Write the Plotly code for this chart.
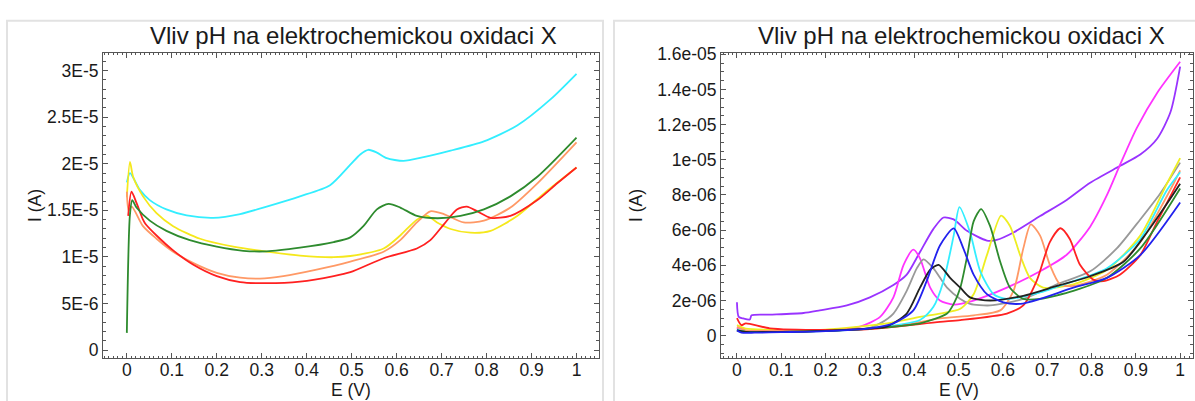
import plotly.graph_objects as go

W, H = 1195, 401
TITLE = "Vliv pH na elektrochemickou oxidaci X"

# ---------------- left chart data (E in V, I in microampere) ----------------
L_cyan_E = [0.0, 0.007, 0.029, 0.051, 0.088, 0.133, 0.192, 0.252, 0.311, 0.385, 0.452, 0.497, 0.519, 0.537, 0.556, 0.578, 0.615, 0.660, 0.720, 0.794, 0.868, 0.942, 1.0]
L_cyan_I = [18.0, 19.0, 17.2, 16.1, 15.1, 14.46, 14.2, 14.6, 15.4, 16.5, 17.7, 19.9, 21.0, 21.5, 21.2, 20.6, 20.3, 20.7, 21.4, 22.4, 24.1, 26.9, 29.65]

L_yellow_E = [0.0, 0.007, 0.014, 0.036, 0.066, 0.103, 0.163, 0.237, 0.311, 0.385, 0.46, 0.497, 0.571, 0.608, 0.645, 0.668, 0.69, 0.72, 0.764, 0.809, 0.868, 0.927, 1.0]
L_yellow_I = [16.4, 20.2, 18.6, 16.5, 14.7, 13.3, 11.95, 11.1, 10.56, 10.14, 9.97, 10.1, 10.9, 12.3, 14.0, 14.4, 13.7, 13.0, 12.6, 12.8, 14.4, 16.8, 19.6]

L_green_E = [0.0, 0.0067, 0.012, 0.0215, 0.051, 0.088, 0.14, 0.2, 0.259, 0.311, 0.385, 0.46, 0.497, 0.526, 0.556, 0.582, 0.608, 0.645, 0.69, 0.742, 0.794, 0.853, 0.913, 1.0]
L_green_I = [1.85, 14.4, 16.1, 15.3, 13.9, 12.8, 11.8, 11.1, 10.66, 10.6, 11.0, 11.6, 12.1, 13.3, 15.1, 15.7, 15.3, 14.4, 14.15, 14.4, 15.1, 16.5, 18.6, 22.8]

L_salmon_E = [0.0, 0.004, 0.011, 0.036, 0.066, 0.103, 0.148, 0.2, 0.252, 0.296, 0.348, 0.422, 0.497, 0.571, 0.608, 0.645, 0.675, 0.705, 0.749, 0.794, 0.853, 0.913, 1.0]
L_salmon_I = [17.0, 15.0, 15.4, 13.3, 11.95, 10.56, 9.34, 8.3, 7.77, 7.67, 7.94, 8.64, 9.5, 10.56, 11.8, 13.7, 14.9, 14.6, 13.7, 13.9, 15.3, 17.9, 22.3]

L_red_E = [0.003, 0.0104, 0.0215, 0.036, 0.042, 0.066, 0.103, 0.148, 0.2, 0.252, 0.311, 0.385, 0.46, 0.497, 0.571, 0.645, 0.675, 0.705, 0.734, 0.756, 0.779, 0.809, 0.853, 0.913, 0.957, 1.0]
L_red_I = [14.4, 17.0, 15.8, 14.0, 13.5, 12.3, 10.7, 9.16, 7.94, 7.3, 7.18, 7.35, 7.94, 8.36, 9.86, 10.9, 11.8, 13.5, 15.1, 15.4, 14.9, 14.2, 14.4, 16.1, 17.9, 19.6]

# ---------------- right chart data (E in V, I in microampere) ----------------
R_magenta_E = [0.0, 0.01, 0.05, 0.1, 0.2, 0.278, 0.323, 0.353, 0.376, 0.398, 0.413, 0.436, 0.458, 0.489, 0.534, 0.609, 0.684, 0.744, 0.797, 0.835, 0.865, 0.902, 0.948, 1.0]
R_magenta_I = [0.42, 0.28, 0.24, 0.24, 0.3, 0.52, 1.07, 2.18, 4.03, 4.89, 4.4, 2.73, 2.0, 1.77, 2.0, 2.73, 3.66, 4.6, 6.2, 8.0, 9.75, 11.8, 13.8, 15.57]

R_purple_E = [0.0, 0.004, 0.0143, 0.029, 0.033, 0.074, 0.15, 0.187, 0.248, 0.3, 0.353, 0.383, 0.413, 0.443, 0.466, 0.489, 0.519, 0.564, 0.586, 0.624, 0.684, 0.744, 0.797, 0.865, 0.91, 0.948, 0.978, 1.0]
R_purple_I = [1.9, 1.07, 0.98, 0.92, 1.16, 1.2, 1.29, 1.44, 1.72, 2.18, 2.88, 3.47, 4.76, 6.06, 6.72, 6.61, 5.96, 5.41, 5.45, 5.87, 6.8, 7.72, 8.7, 9.66, 10.3, 11.2, 12.7, 15.3]

R_gray_E = [0.0, 0.02, 0.1, 0.2, 0.3, 0.323, 0.353, 0.383, 0.406, 0.421, 0.443, 0.474, 0.504, 0.526, 0.571, 0.646, 0.722, 0.797, 0.857, 0.91, 0.955, 1.0]
R_gray_I = [0.35, 0.25, 0.25, 0.28, 0.45, 0.7, 1.26, 2.55, 3.84, 4.34, 3.84, 2.73, 2.09, 1.81, 1.72, 2.09, 2.92, 3.66, 4.96, 6.61, 8.09, 9.84]

R_black_E = [0.0, 0.02, 0.1, 0.2, 0.3, 0.338, 0.383, 0.413, 0.436, 0.455, 0.481, 0.504, 0.526, 0.571, 0.646, 0.722, 0.797, 0.872, 0.925, 0.97, 1.0]
R_black_I = [0.3, 0.22, 0.22, 0.28, 0.42, 0.52, 1.26, 2.73, 3.75, 4.03, 3.29, 2.73, 2.18, 2.0, 2.27, 2.83, 3.38, 4.2, 5.87, 7.5, 8.64]

R_blue_E = [0.0, 0.01, 0.04, 0.1, 0.2, 0.3, 0.353, 0.398, 0.428, 0.458, 0.489, 0.511, 0.534, 0.564, 0.601, 0.639, 0.684, 0.759, 0.835, 0.91, 1.0]
R_blue_I = [0.3, 0.18, 0.17, 0.2, 0.26, 0.42, 0.7, 1.44, 3.1, 5.13, 6.1, 4.95, 3.47, 2.36, 1.9, 1.81, 2.09, 2.73, 3.29, 4.58, 7.57]

R_cyan_E = [0.0, 0.02, 0.1, 0.2, 0.3, 0.413, 0.443, 0.466, 0.489, 0.502, 0.526, 0.549, 0.579, 0.609, 0.684, 0.759, 0.835, 0.91, 0.97, 1.0]
R_cyan_I = [0.35, 0.22, 0.22, 0.27, 0.42, 0.89, 1.63, 3.1, 5.69, 7.31, 5.87, 3.66, 2.36, 2.09, 2.46, 3.1, 3.84, 5.5, 8.27, 9.29]

R_green_E = [0.0, 0.02, 0.1, 0.2, 0.3, 0.413, 0.474, 0.489, 0.504, 0.52, 0.534, 0.551, 0.571, 0.594, 0.616, 0.646, 0.684, 0.759, 0.835, 0.91, 1.0]
R_green_I = [0.3, 0.22, 0.22, 0.27, 0.4, 0.7, 1.26, 1.81, 2.73, 4.6, 6.5, 7.2, 6.24, 4.2, 2.73, 2.09, 2.09, 2.55, 3.29, 4.96, 8.37]

R_yellow_E = [0.0, 0.02, 0.1, 0.2, 0.338, 0.413, 0.458, 0.504, 0.534, 0.564, 0.596, 0.616, 0.639, 0.661, 0.691, 0.759, 0.835, 0.91, 0.97, 1.0]
R_yellow_I = [0.6, 0.4, 0.33, 0.35, 0.7, 1.07, 1.26, 1.53, 2.36, 4.58, 6.83, 6.24, 4.58, 3.29, 2.73, 2.92, 3.75, 5.69, 8.64, 10.1]

R_salmon_E = [0.0, 0.02, 0.1, 0.2, 0.3, 0.4, 0.458, 0.534, 0.594, 0.624, 0.646, 0.663, 0.684, 0.706, 0.729, 0.759, 0.835, 0.91, 0.985, 1.0]
R_salmon_I = [0.5, 0.3, 0.28, 0.3, 0.4, 0.7, 0.98, 1.16, 1.44, 2.55, 4.95, 6.33, 5.69, 4.03, 2.92, 2.83, 3.47, 5.32, 8.64, 9.4]

R_red_E = [0.0, 0.01, 0.02, 0.074, 0.2, 0.3, 0.458, 0.504, 0.609, 0.646, 0.676, 0.706, 0.73, 0.751, 0.774, 0.804, 0.827, 0.864, 0.91, 0.947, 1.0]
R_red_I = [1.0, 0.6, 0.7, 0.42, 0.33, 0.38, 0.79, 0.89, 1.26, 1.72, 3.1, 5.32, 6.11, 5.5, 4.03, 3.19, 3.1, 3.47, 4.58, 6.43, 9.0]

# ---------------- ticks ----------------
X_TICKS = [0, 0.1, 0.2, 0.3, 0.4, 0.5, 0.6, 0.7, 0.8, 0.9, 1.0]
X_TICKTEXT = ["0", "0.1", "0.2", "0.3", "0.4", "0.5", "0.6", "0.7", "0.8", "0.9", "1"]
L_Y_TICKS = [0, 5e-6, 1e-5, 1.5e-5, 2e-5, 2.5e-5, 3e-5]
L_Y_TICKTEXT = ["0", "5E-6", "1E-5", "1.5E-5", "2E-5", "2.5E-5", "3E-5"]
R_Y_TICKS = [0, 2e-6, 4e-6, 6e-6, 8e-6, 1e-5, 1.2e-5, 1.4e-5, 1.6e-5]
R_Y_TICKTEXT = ["0", "2e-06", "4e-06", "6e-06", "8e-06", "1e-05", "1.2e-05", "1.4e-05", "1.6e-05"]

UA = 1e-6

left_series = [
    (L_cyan_E, L_cyan_I, "#33eeff"),
    (L_yellow_E, L_yellow_I, "#f5e81c"),
    (L_salmon_E, L_salmon_I, "#ff9966"),
    (L_red_E, L_red_I, "#ff2020"),
    (L_green_E, L_green_I, "#2e8b2e"),
]
right_series = [
    (R_purple_E, R_purple_I, "#9933ff"),
    (R_magenta_E, R_magenta_I, "#ff33ff"),
    (R_gray_E, R_gray_I, "#999999"),
    (R_yellow_E, R_yellow_I, "#eeee22"),
    (R_salmon_E, R_salmon_I, "#ff9966"),
    (R_cyan_E, R_cyan_I, "#33eeff"),
    (R_red_E, R_red_I, "#ff2222"),
    (R_green_E, R_green_I, "#2e8b2e"),
    (R_black_E, R_black_I, "#222222"),
    (R_blue_E, R_blue_I, "#2222ee"),
]

fig = go.Figure()
for e, i, c in left_series:
    fig.add_trace(go.Scatter(x=e, y=[v * UA for v in i], mode="lines",
                             line=dict(color=c, width=1.8, shape="spline", smoothing=0.7),
                             xaxis="x", yaxis="y", showlegend=False, hoverinfo="skip"))
for e, i, c in right_series:
    fig.add_trace(go.Scatter(x=e, y=[v * UA for v in i], mode="lines",
                             line=dict(color=c, width=1.8, shape="spline", smoothing=0.7),
                             xaxis="x2", yaxis="y2", showlegend=False, hoverinfo="skip"))

FONT = "Liberation Sans, Arial, sans-serif"
FRAME = "#555555"
TXT = "#1a1a1a"

def px_x(p):
    return p / W

def px_y(p):
    return 1 - p / H

Y_DOM = [px_y(359), px_y(46)]

def xaxis(domain, rng, anchor):
    return dict(domain=domain, range=rng, anchor=anchor, tickvals=X_TICKS, ticktext=X_TICKTEXT,
                ticks="inside", ticklen=5, tickcolor=FRAME, showline=True, linecolor=FRAME,
                linewidth=1, mirror="allticks", showgrid=False, zeroline=False,
                ticklabelstandoff=-4,
                tickfont=dict(family=FONT, size=17.5, color=TXT),
                minor=dict(dtick=0.01, ticks="inside", ticklen=2, tickcolor=FRAME, showgrid=False))

def yaxis(rng, anchor, vals, text, minor_dtick):
    return dict(domain=Y_DOM, range=rng, anchor=anchor, tickvals=vals, ticktext=text,
                ticks="inside", ticklen=5, tickcolor=FRAME, showline=True, linecolor=FRAME,
                linewidth=1, mirror="allticks", showgrid=False, zeroline=False,
                tickfont=dict(family=FONT, size=17.5, color=TXT),
                minor=dict(dtick=minor_dtick, tick0=0, ticks="inside", ticklen=3, tickcolor=FRAME, showgrid=False))

annotations = []
for cx in [(103 + 599) / 2 + 2, (721 + 1193) / 2 + 4]:
    annotations.append(dict(text=TITLE, x=px_x(cx), y=px_y(44), xref="paper", yref="paper",
                            xanchor="center", yanchor="bottom", showarrow=False,
                            font=dict(family=FONT, size=24, color=TXT)))
for cx in [351, 959]:
    annotations.append(dict(text="E (V)", x=px_x(cx), y=px_y(392), xref="paper", yref="paper",
                            xanchor="center", yanchor="middle", showarrow=False,
                            font=dict(family=FONT, size=17.5, color=TXT)))
for cx in [35, 636]:
    annotations.append(dict(text="I (A)", x=px_x(cx), y=px_y(203), xref="paper", yref="paper",
                            xanchor="center", yanchor="middle", showarrow=False, textangle=-90,
                            font=dict(family=FONT, size=17.5, color=TXT)))

shapes = [
    dict(type="rect", xref="paper", yref="paper", x0=px_x(7), x1=px_x(603), y0=px_y(420), y1=px_y(13),
         line=dict(color="#e2e2e2", width=2), layer="below"),
    dict(type="rect", xref="paper", yref="paper", x0=px_x(614), x1=px_x(1215), y0=px_y(420), y1=px_y(13),
         line=dict(color="#e2e2e2", width=2), layer="below"),
]

fig.update_layout(
    width=W, height=H, margin=dict(l=0, r=0, t=0, b=0),
    paper_bgcolor="white", plot_bgcolor="white",
    xaxis=xaxis([px_x(103), px_x(599)], [-0.053, 1.05], "y"),
    yaxis=yaxis([-0.85e-6, 31.9e-6], "x", L_Y_TICKS, L_Y_TICKTEXT, 1e-6),
    xaxis2=xaxis([px_x(721), px_x(1193)], [-0.036, 1.029], "y2"),
    yaxis2=yaxis([-1.27e-6, 16.08e-6], "x2", R_Y_TICKS, R_Y_TICKTEXT, 0.5e-6),
    annotations=annotations, shapes=shapes,
)

fig.write_html("out.html", config={"displayModeBar": False},
               post_script="document.body.style.margin='0';document.body.style.overflow='hidden';")
